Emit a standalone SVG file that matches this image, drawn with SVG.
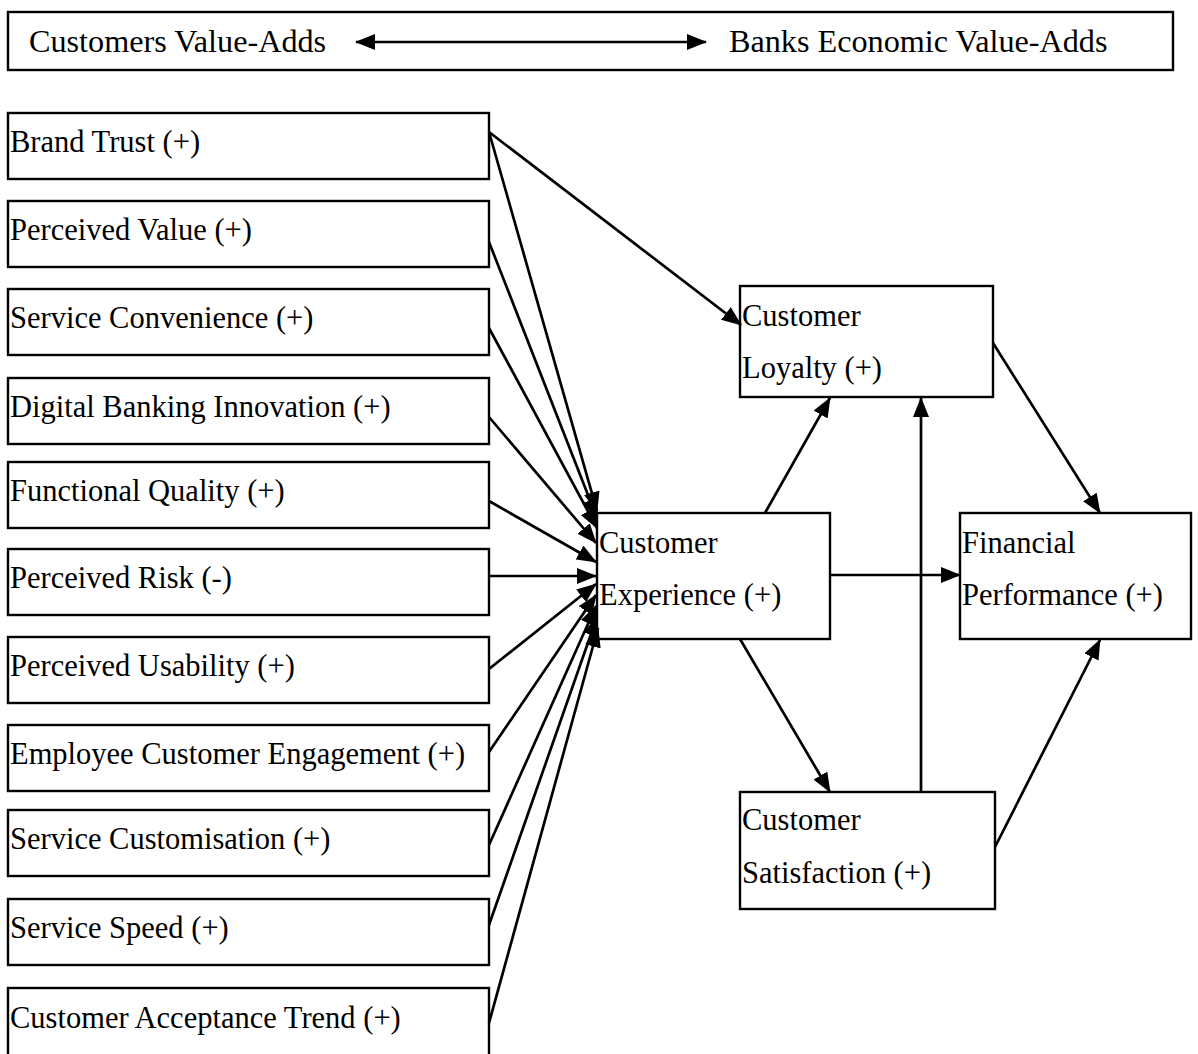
<svg xmlns="http://www.w3.org/2000/svg" width="1198" height="1054" viewBox="0 0 1198 1054">
<style>
.box{fill:#fff;stroke:#000;stroke-width:2.4}
.t{font-family:"Liberation Serif","Times New Roman",serif;font-size:30.5px;fill:#000}
.tb{font-family:"Liberation Serif","Times New Roman",serif;font-size:32.2px;fill:#000}
.c{fill:none;stroke:#000;stroke-width:2.7}
</style>
<defs>
<marker id="ah" markerUnits="userSpaceOnUse" markerWidth="20" markerHeight="16" refX="19" refY="8" orient="auto-start-reverse" viewBox="0 0 20 16">
<path d="M0,0 L20,8 L0,16 z" fill="#000"/>
</marker>
</defs>
<rect width="1198" height="1054" fill="#fff"/>
<g id="banner">
<rect class="box" x="8" y="12" width="1165" height="58"/>
<text class="tb" x="29" y="52">Customers Value-Adds</text>
<text class="tb" x="729" y="52">Banks Economic Value-Adds</text>
</g>
<g id="n1"><rect class="box" x="8" y="113" width="481" height="66"/><text class="t" x="10" y="152">Brand Trust (+)</text></g>
<g id="n2"><rect class="box" x="8" y="201" width="481" height="66"/><text class="t" x="10" y="240">Perceived Value (+)</text></g>
<g id="n3"><rect class="box" x="8" y="289" width="481" height="66"/><text class="t" x="10" y="328">Service Convenience (+)</text></g>
<g id="n4"><rect class="box" x="8" y="378" width="481" height="66"/><text class="t" x="10" y="417">Digital Banking Innovation (+)</text></g>
<g id="n5"><rect class="box" x="8" y="462" width="481" height="66"/><text class="t" x="10" y="501">Functional Quality (+)</text></g>
<g id="n6"><rect class="box" x="8" y="549" width="481" height="66"/><text class="t" x="10" y="588">Perceived Risk (-)</text></g>
<g id="n7"><rect class="box" x="8" y="637" width="481" height="66"/><text class="t" x="10" y="676">Perceived Usability (+)</text></g>
<g id="n8"><rect class="box" x="8" y="725" width="481" height="66"/><text class="t" x="10" y="764">Employee Customer Engagement (+)</text></g>
<g id="n9"><rect class="box" x="8" y="810" width="481" height="66"/><text class="t" x="10" y="849">Service Customisation (+)</text></g>
<g id="n10"><rect class="box" x="8" y="899" width="481" height="66"/><text class="t" x="10" y="938">Service Speed (+)</text></g>
<g id="n11"><rect class="box" x="8" y="988" width="481" height="90"/><text class="t" x="10" y="1028">Customer Acceptance Trend (+)</text></g>
<g id="ce"><rect class="box" x="597" y="513" width="233" height="126"/><text class="t" x="599" y="553">Customer</text><text class="t" x="599" y="605">Experience (+)</text></g>
<g id="cl"><rect class="box" x="740" y="286" width="253" height="111"/><text class="t" x="742" y="326">Customer</text><text class="t" x="742" y="378">Loyalty (+)</text></g>
<g id="cs"><rect class="box" x="740" y="792" width="255" height="117"/><text class="t" x="742" y="830">Customer</text><text class="t" x="742" y="883">Satisfaction (+)</text></g>
<g id="fp"><rect class="box" x="960" y="513" width="231" height="126"/><text class="t" x="962" y="553">Financial</text><text class="t" x="962" y="605">Performance (+)</text></g>
<g id="connectors">
<path class="c" d="M356,42 L706,42" marker-start="url(#ah)" marker-end="url(#ah)"/>
<path class="c" d="M489,132 L741,325" marker-end="url(#ah)"/>
<path class="c" d="M489,132 L597,511" marker-end="url(#ah)"/>
<path class="c" d="M489,242 L597,518" marker-end="url(#ah)"/>
<path class="c" d="M489,328 L597,528" marker-end="url(#ah)"/>
<path class="c" d="M489,417 L596,543" marker-end="url(#ah)"/>
<path class="c" d="M489,501 L596,562" marker-end="url(#ah)"/>
<path class="c" d="M489,576 L596,576" marker-end="url(#ah)"/>
<path class="c" d="M489,669 L596,584" marker-end="url(#ah)"/>
<path class="c" d="M489,752 L596,595" marker-end="url(#ah)"/>
<path class="c" d="M489,845 L596,606" marker-end="url(#ah)"/>
<path class="c" d="M489,925 L597,617" marker-end="url(#ah)"/>
<path class="c" d="M489,1023 L598,628" marker-end="url(#ah)"/>
<path class="c" d="M765,513 L830,398" marker-end="url(#ah)"/>
<path class="c" d="M921,792 L921,398" marker-end="url(#ah)"/>
<path class="c" d="M830,575 L960,575" marker-end="url(#ah)"/>
<path class="c" d="M993,343 L1100,513" marker-end="url(#ah)"/>
<path class="c" d="M740,639 L830,792" marker-end="url(#ah)"/>
<path class="c" d="M995,847 L1100,640" marker-end="url(#ah)"/>
</g>
</svg>
